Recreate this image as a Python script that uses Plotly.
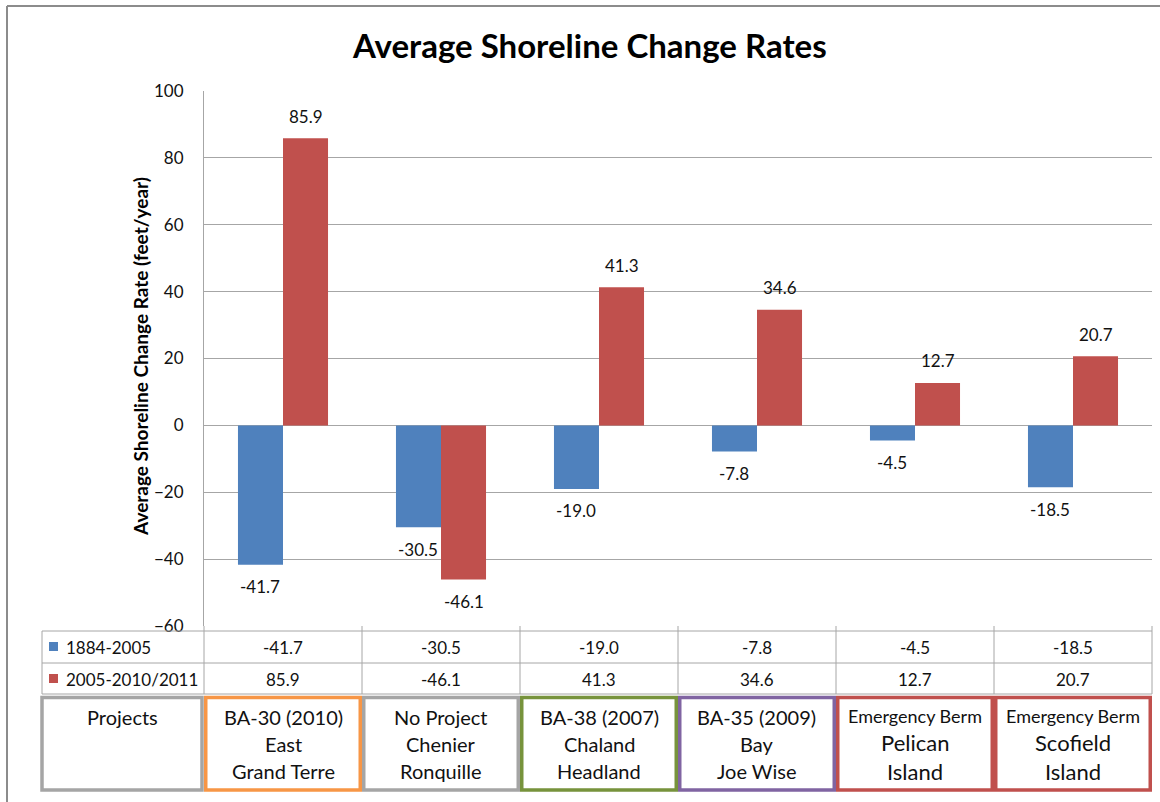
import plotly.graph_objects as go

# ---- data -------------------------------------------------------------
project_codes = ["BA-30 (2010)", "No Project", "BA-38 (2007)",
                 "BA-35 (2009)", "Emergency Berm", "Emergency Berm"]
project_sites_1 = ["East", "Chenier", "Chaland", "Bay", "Pelican", "Scofield"]
project_sites_2 = ["Grand Terre", "Ronquille", "Headland", "Joe Wise",
                   "Island", "Island"]
categories = [f"{a} {b}" for a, b in zip(project_sites_1, project_sites_2)]

series_names = ["1884-2005", "2005-2010/2011"]
rates_1884_2005 = [-41.7, -30.5, -19.0, -7.8, -4.5, -18.5]
rates_2005_2011 = [85.9, -46.1, 41.3, 34.6, 12.7, 20.7]

y_ticks = [-60, -40, -20, 0, 20, 40, 60, 80, 100]

# ---- styling ----------------------------------------------------------
series_colors = ["#4F81BD", "#C0504D"]
box_colors = ["#A5A5A5", "#F79646", "#A5A5A5", "#77933C", "#8064A2",
              "#C0504D", "#C0504D"]
grid_color = "#A6A6A6"
font_family = "Lato, 'Open Sans', sans-serif"
text_color = "#111111"

W, H = 1160, 802
L, R, T, B = 204, 8, 91, 176
PW, PH = W - L - R, H - T - B


def px(x):
    """page pixel x -> paper x"""
    return (x - L) / PW


def py(y):
    """page pixel y -> paper y"""
    return (H - B - y) / PH


def label(x, y, text, size=17, xanchor="center", color=text_color, **kw):
    return dict(x=x, y=y, xref="paper", yref="paper", text=text,
                showarrow=False, xanchor=xanchor, yanchor="middle",
                font=dict(size=size, color=color, family=font_family), **kw)


n = len(categories)

fig = go.Figure()
for name, vals, col in zip(series_names, [rates_1884_2005, rates_2005_2011],
                           series_colors):
    fig.add_trace(go.Bar(x=categories, y=vals, name=name,
                         marker=dict(color=col, line=dict(width=0)),
                         hoverinfo="x+y"))

shapes = []
annotations = []

# data labels at bar ends
bar_px = 0.57 / 2 * PW / n
for k, vals in enumerate([rates_1884_2005, rates_2005_2011]):
    shift = -bar_px / 2 if k == 0 else bar_px / 2
    for c, v in zip(categories, vals):
        annotations.append(dict(
            x=c, y=v, xref="x", yref="y", text=f"{v:.1f}", showarrow=False,
            xanchor="center", yanchor="middle",
            xshift=shift, yshift=22 if v >= 0 else -22,
            font=dict(size=17, color=text_color, family=font_family)))

# title and y-axis title
annotations.append(label(px(589), py(45),
                         "<b>Average Shoreline Change Rates</b>",
                         size=33, color="#000000"))
annotations.append(label(px(140), py(357),
                         "<b>Average Shoreline Change Rate (feet/year)</b>",
                         size=19, color="#000000", textangle=-90))

# data table beneath the plot
thin = dict(color=grid_color, width=1)
for yy in [631, 663, 694]:
    shapes.append(dict(type="line", xref="paper", yref="paper",
                       x0=px(42), x1=1, y0=py(yy), y1=py(yy), line=thin))
shapes.append(dict(type="line", xref="paper", yref="paper",
                   x0=px(42), x1=px(42), y0=py(631), y1=py(694), line=thin))
for i in range(n + 1):
    shapes.append(dict(type="line", xref="paper", yref="paper",
                       x0=i / n, x1=i / n, y0=py(626), y1=py(694), line=thin))

row_y = [647, 679]
for name, vals, col, ry in zip(series_names,
                               [rates_1884_2005, rates_2005_2011],
                               series_colors, row_y):
    shapes.append(dict(type="rect", xref="paper", yref="paper",
                       x0=px(49), x1=px(58), y0=py(ry - 5), y1=py(ry + 4),
                       fillcolor=col, line=dict(width=0)))
    annotations.append(label(px(64), py(ry), name, xanchor="left"))
    for i, v in enumerate(vals):
        annotations.append(label((i + 0.5) / n, py(ry), f"{v:.1f}"))

# project boxes
box_edges = [(px(42), px(202))] + [
    (i / n + 1.75 / PW, (i + 1) / n - 1.75 / PW) for i in range(n)]
box_lines = [["Projects", "", ""]] + [
    [a, b, c] for a, b, c in zip(project_codes, project_sites_1,
                                 project_sites_2)]
for (x0, x1), col, lines in zip(box_edges, box_colors, box_lines):
    shapes.append(dict(type="rect", xref="paper", yref="paper",
                       x0=x0, x1=x1, y0=py(697.5), y1=py(790),
                       line=dict(color=col, width=3.5)))
    small_first = lines[0] == "Emergency Berm"
    for j, (txt, yy) in enumerate(zip(lines, [717, 744, 771])):
        if not txt:
            continue
        size = 20
        if small_first:
            size = 18 if j == 0 else 22
            yy = [716, 742, 771][j]
        annotations.append(label((x0 + x1) / 2, py(yy), txt, size=size))

# outer chart border (top and left edges)
border = dict(color="#8C8C8C", width=2)
shapes.append(dict(type="line", xref="paper", yref="paper",
                   x0=px(7), x1=px(W + 5), y0=py(6), y1=py(6), line=border))
shapes.append(dict(type="line", xref="paper", yref="paper",
                   x0=px(7), x1=px(7), y0=py(6), y1=py(H + 5), line=border))

fig.update_layout(
    width=W, height=H,
    margin=dict(l=L, r=R, t=T, b=B),
    paper_bgcolor="white", plot_bgcolor="white",
    barmode="group", bargap=0.43, bargroupgap=0,
    showlegend=False,
    shapes=shapes, annotations=annotations,
    font=dict(family=font_family, color=text_color),
)
fig.update_xaxes(showticklabels=False, showgrid=False, zeroline=False,
                 showline=False, ticks="", range=[-0.5, n - 0.5])
fig.update_yaxes(range=[-60, 100], tickvals=y_ticks, showgrid=True,
                 gridcolor=grid_color, gridwidth=1, zeroline=True,
                 zerolinecolor=grid_color, zerolinewidth=1,
                 showline=True, linecolor=grid_color, linewidth=1,
                 ticks="", ticklabelstandoff=16,
                 tickfont=dict(size=17, color=text_color, family=font_family))

fig.write_html("out.html")
